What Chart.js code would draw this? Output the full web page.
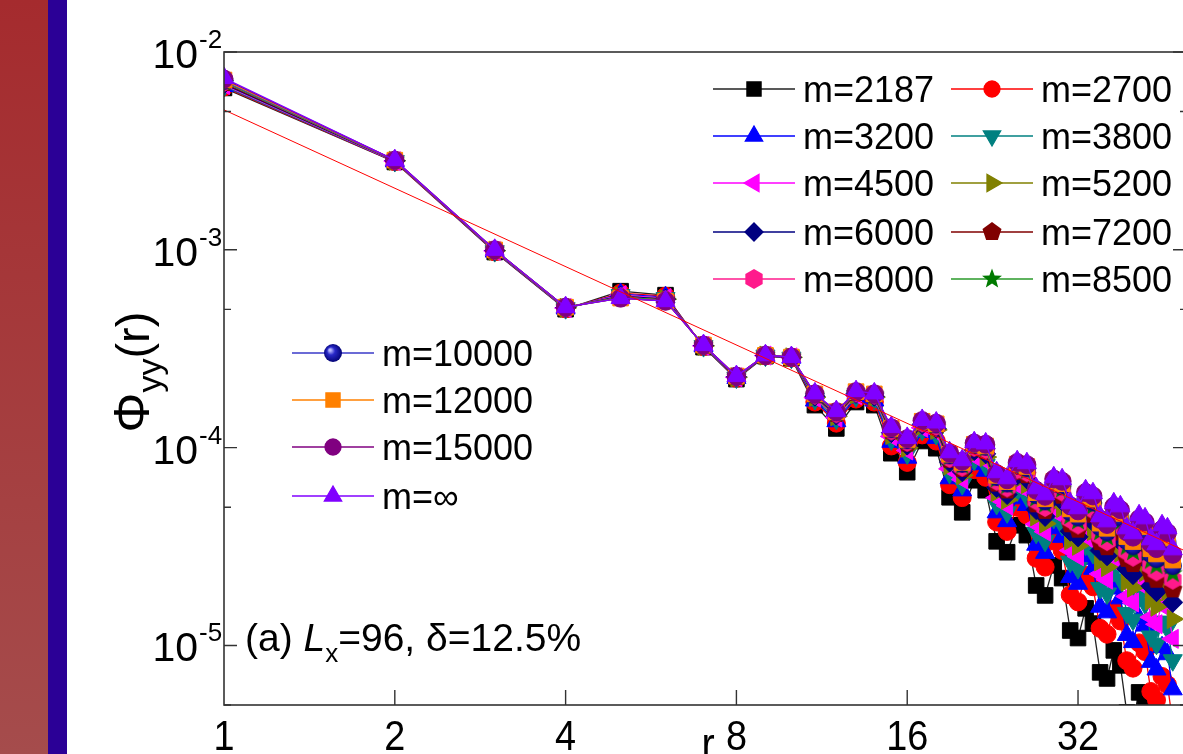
<!DOCTYPE html>
<html>
<head>
<meta charset="utf-8">
<script src="https://cdn.jsdelivr.net/npm/chart.js@4.4.1/dist/chart.umd.min.js"></script>
<style>
  html, body { margin: 0; padding: 0; overflow: hidden; background: #fff; }
  #wrap { position: relative; width: 1183px; height: 754px; overflow: hidden; }
  #barRed { position: absolute; left: 0; top: 0; width: 48px; height: 754px; background: linear-gradient(#a52b2e, #a54c4c); }
  #barBlue { position: absolute; left: 48px; top: 0; width: 19px; height: 754px; background: #2b0096; }
  #cv { position: absolute; left: 0; top: 0; }
</style>
</head>
<body>
<div id="wrap">
  <div id="barRed"></div>
  <div id="barBlue"></div>
  <canvas id="cv" width="1200" height="754"></canvas>
</div>
<script>
// distancia r
const rVals = [1, 2, 3, 4, 5, 6, 7, 8, 9, 10, 11, 12, 13, 14, 15, 16, 17, 18, 19, 20,
  21, 22, 23, 24, 25, 26, 27, 28, 29, 30, 31, 32, 33, 34, 35, 36, 37, 38, 39, 40,
  41, 42, 43, 44, 45, 46, 47];

// Phi_yy(r) para cada m
const m2187 = [6.58e-3, 2.78e-3, 9.74e-4, 5.01e-4, 6.18e-4, 5.90e-4, 3.22e-4, 2.22e-4, 2.90e-4, 2.83e-4,
  1.64e-4, 1.25e-4, 1.70e-4, 1.64e-4, 9.37e-5, 7.51e-5, 1.08e-4, 9.93e-5, 5.61e-5, 4.71e-5,
  6.84e-5, 6.09e-5, 3.36e-5, 2.96e-5, 4.05e-5, 3.61e-5, 2.01e-5, 1.79e-5, 2.54e-5, 2.19e-5,
  1.19e-5, 1.09e-5, 1.54e-5, 1.29e-5, 7.31e-6, 6.81e-6, 9.44e-6, 7.93e-6, 4.59e-6, 4.18e-6,
  5.79e-6, 5.09e-6, 2.95e-6, 2.62e-6, 3.51e-6, 3.12e-6, 1.85e-6];
const m2700 = [6.65e-3, 2.79e-3, 9.77e-4, 5.03e-4, 6.04e-4, 5.83e-4, 3.24e-4, 2.24e-4, 2.91e-4, 2.84e-4,
  1.70e-4, 1.33e-4, 1.76e-4, 1.70e-4, 1.02e-4, 8.42e-5, 1.16e-4, 1.08e-4, 6.50e-5, 5.59e-5,
  7.74e-5, 7.08e-5, 4.21e-5, 3.77e-5, 4.99e-5, 4.56e-5, 2.76e-5, 2.49e-5, 3.38e-5, 3.02e-5,
  1.80e-5, 1.66e-5, 2.27e-5, 1.98e-5, 1.22e-5, 1.14e-5, 1.52e-5, 1.33e-5, 8.37e-6, 7.68e-6,
  1.03e-5, 9.31e-6, 5.85e-6, 5.30e-6, 6.97e-6, 6.33e-6, 4.06e-6];
const m3200 = [6.73e-3, 2.80e-3, 9.80e-4, 5.05e-4, 5.97e-4, 5.76e-4, 3.25e-4, 2.25e-4, 2.91e-4, 2.85e-4,
  1.73e-4, 1.36e-4, 1.79e-4, 1.73e-4, 1.07e-4, 8.90e-5, 1.20e-4, 1.12e-4, 7.00e-5, 6.08e-5,
  8.24e-5, 7.64e-5, 4.71e-5, 4.25e-5, 5.54e-5, 5.13e-5, 3.23e-5, 2.94e-5, 3.91e-5, 3.54e-5,
  2.22e-5, 2.05e-5, 2.74e-5, 2.44e-5, 1.57e-5, 1.47e-5, 1.94e-5, 1.73e-5, 1.13e-5, 1.04e-5,
  1.37e-5, 1.26e-5, 8.26e-6, 7.56e-6, 9.80e-6, 9.03e-6, 6.00e-6];
const m3800 = [6.73e-3, 2.81e-3, 9.85e-4, 5.07e-4, 5.90e-4, 5.70e-4, 3.26e-4, 2.26e-4, 2.92e-4, 2.85e-4,
  1.76e-4, 1.40e-4, 1.82e-4, 1.76e-4, 1.10e-4, 9.34e-5, 1.23e-4, 1.17e-4, 7.45e-5, 6.54e-5,
  8.69e-5, 8.16e-5, 5.19e-5, 4.71e-5, 6.06e-5, 5.67e-5, 3.71e-5, 3.38e-5, 4.42e-5, 4.07e-5,
  2.65e-5, 2.46e-5, 3.23e-5, 2.93e-5, 1.95e-5, 1.83e-5, 2.38e-5, 2.16e-5, 1.46e-5, 1.35e-5,
  1.77e-5, 1.63e-5, 1.11e-5, 1.02e-5, 1.32e-5, 1.22e-5, 8.42e-6];
const m4500 = [6.81e-3, 2.81e-3, 9.88e-4, 5.08e-4, 5.90e-4, 5.70e-4, 3.27e-4, 2.27e-4, 2.92e-4, 2.86e-4,
  1.79e-4, 1.42e-4, 1.84e-4, 1.79e-4, 1.14e-4, 9.68e-5, 1.26e-4, 1.20e-4, 7.81e-5, 6.90e-5,
  9.04e-5, 8.58e-5, 5.58e-5, 5.09e-5, 6.48e-5, 6.11e-5, 4.10e-5, 3.76e-5, 4.84e-5, 4.52e-5,
  3.02e-5, 2.82e-5, 3.66e-5, 3.36e-5, 2.30e-5, 2.15e-5, 2.78e-5, 2.55e-5, 1.77e-5, 1.65e-5,
  2.12e-5, 1.98e-5, 1.39e-5, 1.28e-5, 1.64e-5, 1.54e-5, 1.08e-5];
const m5200 = [6.89e-3, 2.82e-3, 9.90e-4, 5.09e-4, 5.83e-4, 5.63e-4, 3.27e-4, 2.27e-4, 2.92e-4, 2.86e-4,
  1.80e-4, 1.44e-4, 1.86e-4, 1.80e-4, 1.16e-4, 9.99e-5, 1.29e-4, 1.23e-4, 8.14e-5, 7.25e-5,
  9.37e-5, 8.96e-5, 5.95e-5, 5.45e-5, 6.88e-5, 6.54e-5, 4.49e-5, 4.13e-5, 5.26e-5, 4.95e-5,
  3.40e-5, 3.19e-5, 4.09e-5, 3.79e-5, 2.66e-5, 2.49e-5, 3.18e-5, 2.95e-5, 2.10e-5, 1.96e-5,
  2.50e-5, 2.35e-5, 1.69e-5, 1.57e-5, 1.99e-5, 1.88e-5, 1.36e-5];
const m6000 = [6.89e-3, 2.82e-3, 9.92e-4, 5.10e-4, 5.83e-4, 5.63e-4, 3.28e-4, 2.28e-4, 2.92e-4, 2.86e-4,
  1.82e-4, 1.46e-4, 1.88e-4, 1.82e-4, 1.19e-4, 1.03e-4, 1.31e-4, 1.25e-4, 8.45e-5, 7.56e-5,
  9.66e-5, 9.30e-5, 6.29e-5, 5.79e-5, 7.25e-5, 6.94e-5, 4.86e-5, 4.49e-5, 5.65e-5, 5.37e-5,
  3.78e-5, 3.54e-5, 4.50e-5, 4.22e-5, 3.02e-5, 2.84e-5, 3.59e-5, 3.36e-5, 2.44e-5, 2.28e-5,
  2.89e-5, 2.73e-5, 2.00e-5, 1.87e-5, 2.37e-5, 2.24e-5, 1.65e-5];
const m7200 = [6.97e-3, 2.83e-3, 9.94e-4, 5.11e-4, 5.77e-4, 5.56e-4, 3.28e-4, 2.28e-4, 2.93e-4, 2.86e-4,
  1.84e-4, 1.48e-4, 1.89e-4, 1.84e-4, 1.21e-4, 1.05e-4, 1.33e-4, 1.27e-4, 8.69e-5, 7.82e-5,
  9.91e-5, 9.60e-5, 6.58e-5, 6.08e-5, 7.55e-5, 7.26e-5, 5.17e-5, 4.79e-5, 5.98e-5, 5.72e-5,
  4.10e-5, 3.85e-5, 4.85e-5, 4.58e-5, 3.33e-5, 3.14e-5, 3.94e-5, 3.72e-5, 2.74e-5, 2.58e-5,
  3.24e-5, 3.08e-5, 2.29e-5, 2.15e-5, 2.71e-5, 2.58e-5, 1.92e-5];
const m8000 = [7.05e-3, 2.83e-3, 9.96e-4, 5.11e-4, 5.77e-4, 5.56e-4, 3.29e-4, 2.29e-4, 2.93e-4, 2.87e-4,
  1.85e-4, 1.49e-4, 1.90e-4, 1.85e-4, 1.22e-4, 1.07e-4, 1.34e-4, 1.29e-4, 8.87e-5, 8.01e-5,
  1.01e-4, 9.81e-5, 6.80e-5, 6.29e-5, 7.78e-5, 7.51e-5, 5.41e-5, 5.01e-5, 6.23e-5, 5.99e-5,
  4.35e-5, 4.09e-5, 5.13e-5, 4.87e-5, 3.59e-5, 3.37e-5, 4.22e-5, 4.00e-5, 2.99e-5, 2.81e-5,
  3.52e-5, 3.35e-5, 2.53e-5, 2.37e-5, 2.98e-5, 2.85e-5, 2.15e-5];
const m8500 = [7.05e-3, 2.83e-3, 9.97e-4, 5.12e-4, 5.77e-4, 5.56e-4, 3.29e-4, 2.29e-4, 2.93e-4, 2.87e-4,
  1.85e-4, 1.50e-4, 1.91e-4, 1.85e-4, 1.23e-4, 1.08e-4, 1.35e-4, 1.30e-4, 9.00e-5, 8.13e-5,
  1.02e-4, 9.94e-5, 6.93e-5, 6.43e-5, 7.92e-5, 7.67e-5, 5.56e-5, 5.17e-5, 6.39e-5, 6.17e-5,
  4.51e-5, 4.25e-5, 5.31e-5, 5.06e-5, 3.75e-5, 3.53e-5, 4.41e-5, 4.20e-5, 3.16e-5, 2.97e-5,
  3.70e-5, 3.54e-5, 2.69e-5, 2.53e-5, 3.17e-5, 3.04e-5, 2.31e-5];
const m10000 = [7.13e-3, 2.84e-3, 9.98e-4, 5.12e-4, 5.70e-4, 5.50e-4, 3.29e-4, 2.29e-4, 2.93e-4, 2.87e-4,
  1.86e-4, 1.51e-4, 1.91e-4, 1.86e-4, 1.24e-4, 1.09e-4, 1.36e-4, 1.31e-4, 9.14e-5, 8.28e-5,
  1.03e-4, 1.01e-4, 7.10e-5, 6.59e-5, 8.10e-5, 7.86e-5, 5.76e-5, 5.35e-5, 6.59e-5, 6.38e-5,
  4.72e-5, 4.44e-5, 5.53e-5, 5.29e-5, 3.96e-5, 3.73e-5, 4.64e-5, 4.43e-5, 3.37e-5, 3.17e-5,
  3.94e-5, 3.78e-5, 2.90e-5, 2.73e-5, 3.41e-5, 3.28e-5, 2.52e-5];
const m12000 = [7.22e-3, 2.84e-3, 9.99e-4, 5.13e-4, 5.70e-4, 5.50e-4, 3.30e-4, 2.30e-4, 2.93e-4, 2.87e-4,
  1.87e-4, 1.52e-4, 1.92e-4, 1.87e-4, 1.25e-4, 1.10e-4, 1.36e-4, 1.32e-4, 9.26e-5, 8.41e-5,
  1.04e-4, 1.02e-4, 7.24e-5, 6.73e-5, 8.26e-5, 8.03e-5, 5.92e-5, 5.51e-5, 6.76e-5, 6.57e-5,
  4.90e-5, 4.61e-5, 5.72e-5, 5.49e-5, 4.15e-5, 3.91e-5, 4.84e-5, 4.65e-5, 3.55e-5, 3.35e-5,
  4.15e-5, 3.99e-5, 3.08e-5, 2.90e-5, 3.63e-5, 3.49e-5, 2.70e-5];
const m15000 = [7.30e-3, 2.84e-3, 1.00e-3, 5.13e-4, 5.70e-4, 5.50e-4, 3.30e-4, 2.30e-4, 2.93e-4, 2.87e-4,
  1.87e-4, 1.52e-4, 1.92e-4, 1.87e-4, 1.26e-4, 1.11e-4, 1.37e-4, 1.33e-4, 9.38e-5, 8.54e-5,
  1.055e-4, 1.04e-4, 7.39e-5, 6.88e-5, 8.41e-5, 8.20e-5, 6.09e-5, 5.68e-5, 6.94e-5, 6.76e-5,
  5.08e-5, 4.79e-5, 5.93e-5, 5.70e-5, 4.34e-5, 4.09e-5, 5.05e-5, 4.86e-5, 3.75e-5, 3.53e-5,
  4.37e-5, 4.21e-5, 3.27e-5, 3.09e-5, 3.86e-5, 3.72e-5, 2.89e-5];
const mInf = [7.39e-3, 2.84e-3, 1.00e-3, 5.13e-4, 5.70e-4, 5.50e-4, 3.30e-4, 2.30e-4, 2.93e-4, 2.87e-4,
  1.88e-4, 1.53e-4, 1.93e-4, 1.88e-4, 1.27e-4, 1.12e-4, 1.38e-4, 1.34e-4, 9.48e-5, 8.64e-5,
  1.065e-4, 1.05e-4, 7.51e-5, 7.00e-5, 8.54e-5, 8.34e-5, 6.23e-5, 5.81e-5, 7.08e-5, 6.92e-5,
  5.23e-5, 4.94e-5, 6.09e-5, 5.88e-5, 4.50e-5, 4.24e-5, 5.23e-5, 5.05e-5, 3.91e-5, 3.69e-5,
  4.55e-5, 4.39e-5, 3.44e-5, 3.25e-5, 4.05e-5, 3.91e-5, 3.06e-5];

// recta de ajuste (extremos)
const fitR = [1, 50];
const fitVals = [5.1e-3, 2.96e-5];

// ticks
const xTicks = [1, 2, 4, 8, 16, 32];
const yMajor = [1e-5, 1e-4, 1e-3, 1e-2];
const yMinor = [5e-6, 5e-5, 5e-4, 5e-3];
const yExp = ['-5', '-4', '-3', '-2'];

const labels = ['m=2187', 'm=2700', 'm=3200', 'm=3800', 'm=4500', 'm=5200', 'm=6000',
  'm=7200', 'm=8000', 'm=8500', 'm=10000', 'm=12000', 'm=15000', 'm=\u221E'];
const series = [m2187, m2700, m3200, m3800, m4500, m5200, m6000, m7200, m8000, m8500,
  m10000, m12000, m15000, mInf];

const FONT = '"Liberation Sans", Arial, sans-serif';

// marcadores que Chart.js no trae
function marcador(tipo, color) {
  const c = document.createElement('canvas');
  c.width = 24; c.height = 24;
  const g = c.getContext('2d');
  const cx = 12, cy = 12;
  g.fillStyle = color;
  g.beginPath();
  if (tipo === 'pent') {
    for (let k = 0; k < 5; k++) {
      const a = -Math.PI / 2 + k * 2 * Math.PI / 5;
      g.lineTo(cx + 10 * Math.cos(a), cy + 10 * Math.sin(a));
    }
  } else if (tipo === 'hex') {
    for (let k = 0; k < 6; k++) {
      const a = -Math.PI / 2 + k * Math.PI / 3;
      g.lineTo(cx + 10 * Math.cos(a), cy + 10 * Math.sin(a));
    }
  } else if (tipo === 'star') {
    for (let k = 0; k < 10; k++) {
      const a = -Math.PI / 2 + k * Math.PI / 5;
      const rr = k % 2 === 0 ? 10.5 : 4.4;
      g.lineTo(cx + rr * Math.cos(a), cy + rr * Math.sin(a));
    }
  } else if (tipo === 'ball') {
    const grad = g.createRadialGradient(cx - 3, cy - 3, 1, cx, cy, 9.5);
    grad.addColorStop(0, '#b8b8ff');
    grad.addColorStop(0.35, '#2828c8');
    grad.addColorStop(1, '#000070');
    g.fillStyle = grad;
    g.arc(cx, cy, 9, 0, Math.PI * 2);
  }
  g.closePath();
  g.fill();
  return c;
}

const estilos = [
  { color: '#000000', linea: '#222222', punto: 'rect', radio: 11, rot: 0 },
  { color: '#ff0000', linea: '#ff0000', punto: 'circle', radio: 9, rot: 0 },
  { color: '#0000ff', linea: '#0000ff', punto: 'triangle', radio: 11, rot: 0 },
  { color: '#008080', linea: '#008080', punto: 'triangle', radio: 11, rot: 180 },
  { color: '#ff00ff', linea: '#ff00ff', punto: 'triangle', radio: 11, rot: 270 },
  { color: '#808000', linea: '#808000', punto: 'triangle', radio: 11, rot: 90 },
  { color: '#000080', linea: '#000080', punto: 'rectRot', radio: 10, rot: 0 },
  { color: '#800000', linea: '#800000', punto: marcador('pent', '#800000'), radio: 10, rot: 0 },
  { color: '#ff1a8c', linea: '#ff1a8c', punto: marcador('hex', '#ff1a8c'), radio: 10, rot: 0 },
  { color: '#007a00', linea: '#2a9a2a', punto: marcador('star', '#007a00'), radio: 10, rot: 0 },
  { color: '#1a1aa0', linea: '#3a3ac8', punto: marcador('ball'), radio: 10, rot: 0 },
  { color: '#ff8000', linea: '#ff8000', punto: 'rect', radio: 11, rot: 0 },
  { color: '#800080', linea: '#800080', punto: 'circle', radio: 9, rot: 0 },
  { color: '#8000ff', linea: '#8000ff', punto: 'triangle', radio: 11, rot: 0 }
];

const datasets = series.map((vals, i) => ({
  label: labels[i],
  data: rVals.map((r, k) => ({ x: r, y: vals[k] })),
  borderColor: estilos[i].linea,
  backgroundColor: estilos[i].color,
  pointBackgroundColor: estilos[i].color,
  pointBorderColor: estilos[i].color,
  pointBorderWidth: 1,
  pointStyle: estilos[i].punto,
  pointRadius: estilos[i].radio,
  pointRotation: estilos[i].rot,
  borderWidth: 1.3,
  order: series.length - i,
  clip: 0
}));
datasets.push({
  label: 'ajuste',
  data: fitR.map((r, k) => ({ x: r, y: fitVals[k] })),
  borderColor: '#ff0000',
  borderWidth: 1,
  pointRadius: 0,
  order: 0,
  clip: 0
});

function texto(c, s, x, y, size, align, italic) {
  c.font = (italic ? 'italic ' : '') + size + 'px ' + FONT;
  c.textAlign = align || 'left';
  c.textBaseline = 'alphabetic';
  c.fillText(s, x, y);
  return c.measureText(s).width;
}

// texto algo estrecho, como en la figura original
function textoEstrecho(c, s, x, y, size, align, k) {
  c.save();
  c.translate(x, y);
  c.scale(k, 1);
  texto(c, s, 0, 0, size, align);
  c.restore();
}

function itemLeyenda(c, i, x0, y0) {
  const e = estilos[i];
  c.strokeStyle = e.linea;
  c.lineWidth = 1.3;
  c.beginPath();
  c.moveTo(x0, y0);
  c.lineTo(x0 + 82, y0);
  c.stroke();
  c.fillStyle = e.color;
  c.strokeStyle = e.color;
  Chart.helpers.drawPoint(c, { pointStyle: e.punto, radius: e.radio - 1, rotation: e.rot, borderWidth: 1 }, x0 + 41, y0);
  c.fillStyle = '#000';
  texto(c, labels[i], x0 + 90, y0 + 13, 36);
}

const decoracion = {
  id: 'decoracion',
  afterDraw(chart) {
    const c = chart.ctx;
    const a = chart.chartArea;
    const sx = chart.scales.x, sy = chart.scales.y;
    c.save();
    // marco
    c.strokeStyle = '#333';
    c.lineWidth = 1.6;
    c.strokeRect(a.left, a.top, a.right - a.left, a.bottom - a.top);
    // ticks hacia dentro
    c.lineWidth = 1.4;
    c.beginPath();
    xTicks.slice(1).forEach(v => {
      const px = sx.getPixelForValue(v);
      c.moveTo(px, a.bottom); c.lineTo(px, a.bottom - 15);
    });
    yMajor.forEach(v => {
      const py = sy.getPixelForValue(v);
      c.moveTo(a.left, py); c.lineTo(a.left + 13, py);
      c.moveTo(a.right, py); c.lineTo(a.right - 15, py);
    });
    yMinor.forEach(v => {
      const py = sy.getPixelForValue(v);
      c.moveTo(a.left, py); c.lineTo(a.left + 7, py);
      c.moveTo(a.right, py); c.lineTo(a.right - 8, py);
    });
    c.stroke();

    c.fillStyle = '#000';
    // etiquetas eje x
    xTicks.forEach(v => textoEstrecho(c, String(v), sx.getPixelForValue(v), 750, 42, 'center', 0.9));
    textoEstrecho(c, 'r', (a.left + a.right) / 2 + 2, 759, 44, 'center', 0.9);
    // etiquetas eje y
    yMajor.forEach((v, i) => {
      const py = sy.getPixelForValue(v);
      texto(c, '10', 198, py + 16, 41, 'right');
      texto(c, yExp[i], 199, py - 4, 26, 'left');
    });
    // titulo eje y
    c.save();
    c.translate(132, 372);
    c.rotate(-Math.PI / 2);
    c.font = '50px ' + FONT;
    const w1 = c.measureText('\u03A6').width;
    c.font = '34px ' + FONT;
    const w2 = c.measureText('yy').width;
    c.font = '47px ' + FONT;
    const w3 = c.measureText('(r)').width;
    let px = -(w1 + w2 + w3) / 2;
    px += texto(c, '\u03A6', px, 17, 50);
    px += texto(c, 'yy', px, 29, 34);
    texto(c, '(r)', px, 17, 47);
    c.restore();
    // anotacion
    let ax = 245;
    ax += texto(c, '(a) ', ax, 651, 39);
    ax += texto(c, 'L', ax, 651, 39, 'left', true);
    ax += texto(c, 'x', ax, 662, 26);
    texto(c, '=96, \u03B4=12.5%', ax, 651, 39);
    // leyendas
    const filas = [89, 136, 183, 232, 279];
    for (let i = 0; i < 10; i++) {
      const col = i % 2, fila = Math.floor(i / 2);
      itemLeyenda(c, i, col === 0 ? 713 : 951, filas[fila]);
    }
    const filas2 = [353, 400, 447, 496];
    for (let i = 10; i < 14; i++) itemLeyenda(c, i, 292, filas2[i - 10]);
    c.restore();
  }
};

const ctx = document.getElementById('cv').getContext('2d');
new Chart(ctx, {
  type: 'line',
  data: { datasets: datasets },
  options: {
    responsive: false,
    animation: false,
    events: [],
    layout: { padding: { left: 224, top: 52, right: 5, bottom: 49 } },
    elements: { line: { tension: 0 } },
    plugins: { legend: { display: false }, tooltip: { enabled: false } },
    scales: {
      x: { type: 'logarithmic', min: 1, max: 50, display: false },
      y: { type: 'logarithmic', min: 5e-6, max: 1e-2, display: false }
    }
  },
  plugins: [decoracion]
});
</script>
</body>
</html>
